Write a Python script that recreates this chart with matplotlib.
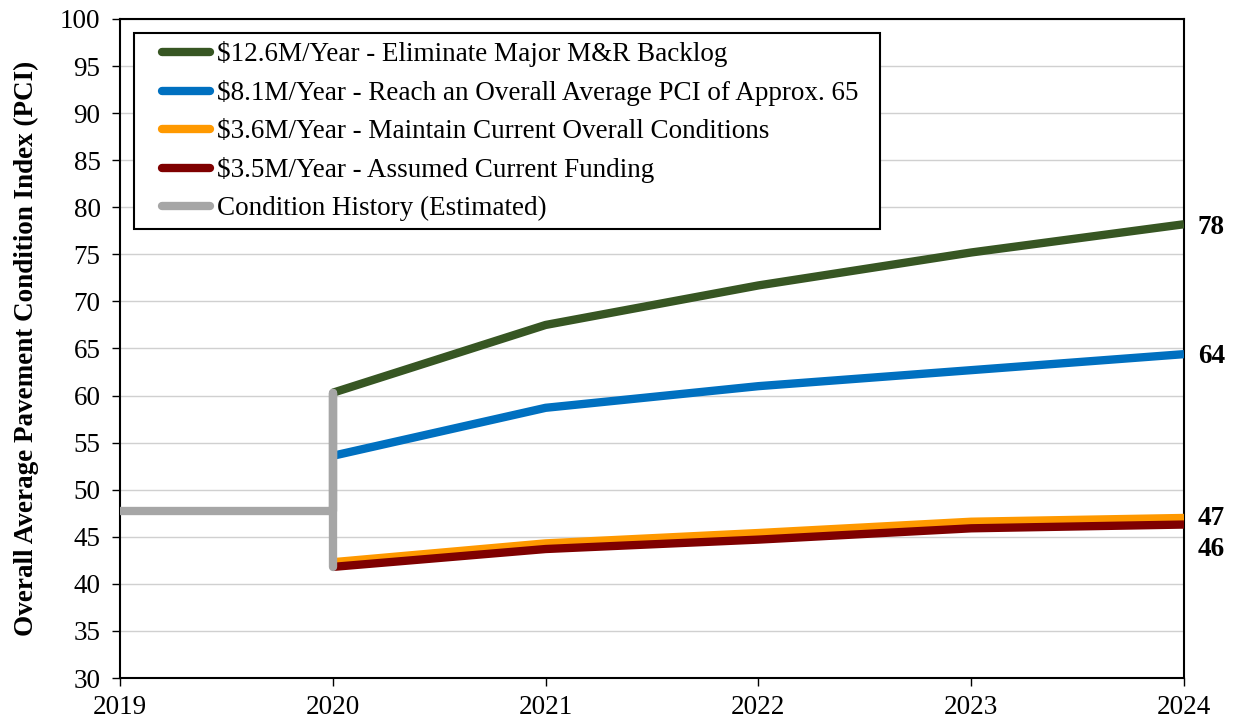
import matplotlib
matplotlib.use("Agg")
import matplotlib.pyplot as plt

plt.rcParams['font.family'] = ['Liberation Serif', 'DejaVu Serif']

years = [2020, 2021, 2022, 2023, 2024]
green = [60.3, 67.5, 71.7, 75.2, 78.2]
blue = [53.6, 58.7, 61.0, 62.7, 64.4]
orange = [42.3, 44.3, 45.4, 46.6, 47.0]
red = [41.8, 43.7, 44.7, 45.9, 46.3]
hist_x = [2019, 2020, 2020, 2020]
hist_y = [47.7, 47.7, 60.3, 41.8]

labels = [r"\$12.6M/Year - Eliminate Major M&R Backlog",
          r"\$8.1M/Year - Reach an Overall Average PCI of Approx. 65  ",
          r"\$3.6M/Year - Maintain Current Overall Conditions",
          r"\$3.5M/Year - Assumed Current Funding",
          "Condition History (Estimated)"]
colors = ["#375623", "#0070C0", "#FF9900", "#7F0000", "#A6A6A6"]
end_labels = ["78", "64", "47", "46"]

FS = 19.5
fig = plt.figure(figsize=(12.33, 7.25), dpi=100)
ax = fig.add_axes([120/1233, 1-678/725, (1184-120)/1233, (678-19)/725])

lw = 6
series = [green, blue, orange, red]
for s, c, lab in zip(series, colors[:4], labels[:4]):
    ax.plot(years, s, color=c, lw=lw, label=lab, solid_capstyle='butt', zorder=3)
ax.plot(hist_x, hist_y, color=colors[4], lw=lw, label=labels[4],
        solid_capstyle='round', solid_joinstyle='round', zorder=4)

# end labels
offsets = [-2.5, -1.5, -0.5, -18]
for s, t, off in zip(series, end_labels, offsets):
    ax.annotate(t, xy=(2024, s[-1]), xytext=(10, off), textcoords='offset points',
                ha='left', va='center', fontsize=FS, fontweight='bold',
                annotation_clip=False)

ax.set_xlim(2019, 2024)
ax.set_ylim(30, 100)
ax.set_xticks(range(2019, 2025))
ax.set_yticks(range(30, 101, 5))
ax.tick_params(axis='both', labelsize=FS, direction='out', length=6, width=1)
ax.tick_params(axis='y', pad=8)
ax.tick_params(axis='x', pad=6)
ax.yaxis.grid(True, color='#D0D0D0', lw=1)
ax.set_axisbelow(True)
for sp in ax.spines.values():
    sp.set_linewidth(1.5)
    sp.set_color('black')

ax.set_ylabel("Overall Average Pavement Condition Index (PCI)", fontsize=FS,
              fontweight='bold', labelpad=15)

leg = ax.legend(loc='upper left', bbox_to_anchor=((134-120)/1064, (678-33)/659),
                borderaxespad=0, fontsize=FS, frameon=True, fancybox=False,
                edgecolor='black', framealpha=1, handlelength=2.67, handletextpad=0.1,
                labelspacing=0.48, borderpad=0.3)
leg.get_frame().set_linewidth(1.5)
for h in leg.get_lines():
    h.set_solid_capstyle('round')
    xd = h.get_xdata()
    yd = h.get_ydata()
    x0, x1 = xd[0], xd[-1]
    h.set_data([x0 + 20 * 0.72, x1 - 4 * 0.72], [yd[0], yd[0]])

fig.savefig("out.png", dpi=100)
